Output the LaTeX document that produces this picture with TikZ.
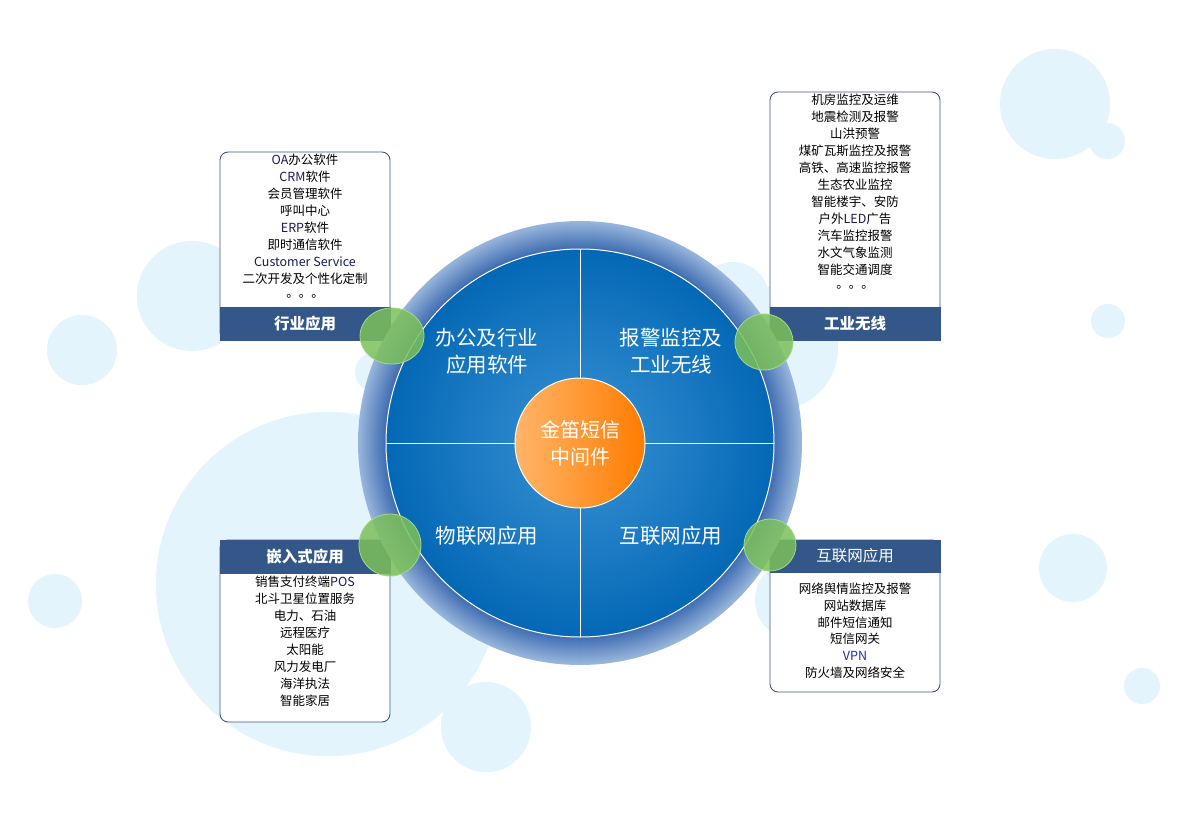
\documentclass[tikz,border=0pt]{standalone}
\usepackage{fontspec}
\setmainfont{Noto Sans CJK SC}

\definecolor{bubble}{HTML}{E3F4FC}
\definecolor{barblue}{HTML}{34578A}
\definecolor{lineblue}{HTML}{3A5B8C}
\definecolor{ringin}{HTML}{3D6BB0}
\definecolor{ringout}{HTML}{98B6DC}
\definecolor{diskin}{HTML}{3A93D4}
\definecolor{diskout}{HTML}{0468B6}
\definecolor{orangeL}{HTML}{FFB56A}
\definecolor{orangeR}{HTML}{FF7C00}
\definecolor{leaf}{HTML}{7CC05A}
\definecolor{leafrim}{HTML}{A6D884}
\definecolor{latin}{HTML}{1A1A55}
\definecolor{vpnblue}{HTML}{1A2FB0}

\newcommand{\lat}[1]{\textcolor{latin}{#1}}

\begin{document}
\begin{tikzpicture}[x=1pt,y=-1pt,
  item/.style={font=\fontsize{12.5}{15}\selectfont, inner sep=0pt},
  bartext/.style={text=white, font=\fontsize{15.5}{18}\selectfont\bfseries, inner sep=0pt},
  seglabel/.style={text=white, align=center, font=\fontsize{20.5}{27}\selectfont, inner sep=0pt},
  box/.style={fill=white, draw=lineblue, line width=0.9pt, rounded corners=8pt},
  bar/.style={fill=barblue},
  leafdot/.style={fill=leaf, fill opacity=0.85, draw=leafrim, line width=0.8pt}]

% CANVAS
  \useasboundingbox[fill=white] (0,0) rectangle (1188,840);

% BUBBLES
  \foreach \bx/\by/\br in {328/584/172, 192/296/55, 82/350/35, 55/601/27, 486/727/45,
      375/372/20, 733/298/36, 776/348/62, 795/600/40,
      1055/104/55, 1107/141/18, 1108/321/17, 1073/568/34, 1142/686/18}
    \fill[bubble] (\bx,\by) circle[radius=\br pt];

% Box 1: top left
  \filldraw[box] (220,152) rectangle (390,340);
  \fill[bar] (219.5,307) rectangle (390.5,340.5);
  \node[bartext] (trade) at (305,324) {行业应用};
  \foreach \t [count=\i] in {\lat{OA}办公软件, \lat{CRM}软件, 会员管理软件, 呼叫中心,
      \lat{ERP}软件, 即时通信软件, \lat{Customer Service}, 二次开发及个性化定制, 。。。}
    \node[item] (soft\i) at (305,143+17*\i) {\t};

% Box 2: top right
  \filldraw[box] (770,92) rectangle (940,340);
  \fill[bar] (769.5,307) rectangle (940.5,340.5);
  \node[bartext] (wireless) at (855,324) {工业无线};
  \foreach \t [count=\i] in {机房监控及运维, 地震检测及报警, 山洪预警, 煤矿瓦斯监控及报警,
      高铁、高速监控报警, 生态农业监控, 智能楼宇、安防, 户外\lat{LED}广告,
      汽车监控报警, 水文气象监测, 智能交通调度, 。。。}
    \node[item] (radio\i) at (855,83+17*\i) {\t};

% Box 3: bottom left
  \filldraw[box] (220,540) rectangle (390,722);
  \fill[bar] (219.5,539.5) rectangle (390.5,574);
  \node[bartext] (embed) at (305,557) {嵌入式应用};
  \foreach \t [count=\i] in {销售支付终端\lat{POS}, 北斗卫星位置服务, 电力、石油, 远程医疗,
      太阳能, 风力发电厂, 海洋执法, 智能家居}
    \node[item] (chip\i) at (305,565+17*\i) {\t};

% Box 4: bottom right
  \filldraw[box] (770,540) rectangle (940,692);
  \fill[bar] (769.5,539.5) rectangle (940.5,573);
  \node[bartext, font=\fontsize{15.5}{18}\selectfont] (inet) at (855,556) {互联网应用};
  \foreach \t [count=\i] in {网络舆情监控及报警, 网站数据库, 邮件短信通知, 短信网关,
      \textcolor{vpnblue}{VPN}, 防火墙及网络安全}
    \node[item] (net\i) at (855,572+16.8*\i) {\t};

% RING
  \foreach \k in {0,...,28} {
    \pgfmathtruncatemacro\mix{100*\k/28}
    \fill[ringin!\mix!ringout] (580,443) circle[radius=222pt-\k pt];
  }

% DISK
  \shade[inner color=diskin, outer color=diskout] (580,443) circle[radius=194pt];
  \draw[white, line width=1pt] (580,443) circle[radius=194pt];
  \draw[white, line width=1pt] (386,443) -- (515,443);
  \draw[white, line width=1pt] (645,443) -- (774,443);
  \draw[white, line width=1pt] (580,249) -- (580,378);
  \draw[white, line width=1pt] (580,508) -- (580,637);

% CORE
  \shade[left color=orangeL, right color=orangeR] (580,443) circle[radius=65pt];
  \draw[white, line width=1pt] (580,443) circle[radius=65pt];
  \node[seglabel, font=\fontsize{20}{27}\selectfont] (core) at (580,443) {金笛短信\\中间件};

% Quadrant labels
  \node[seglabel] (office) at (487,351) {办公及行业\\应用软件};
  \node[seglabel] (alarm)  at (671,351) {报警监控及\\工业无线};
  \node[seglabel] (iot)    at (487,536) {物联网应用};
  \node[seglabel] (web)    at (671,536) {互联网应用};

% Green joints
  \filldraw[leafdot] (392,336) ellipse[x radius=32pt, y radius=28pt];
  \filldraw[leafdot] (764,342) ellipse[x radius=29pt, y radius=28pt];
  \filldraw[leafdot] (390,545) ellipse[x radius=31pt, y radius=31pt];
  \filldraw[leafdot] (770,545) ellipse[x radius=26pt, y radius=26pt];
\end{tikzpicture}
\end{document}
